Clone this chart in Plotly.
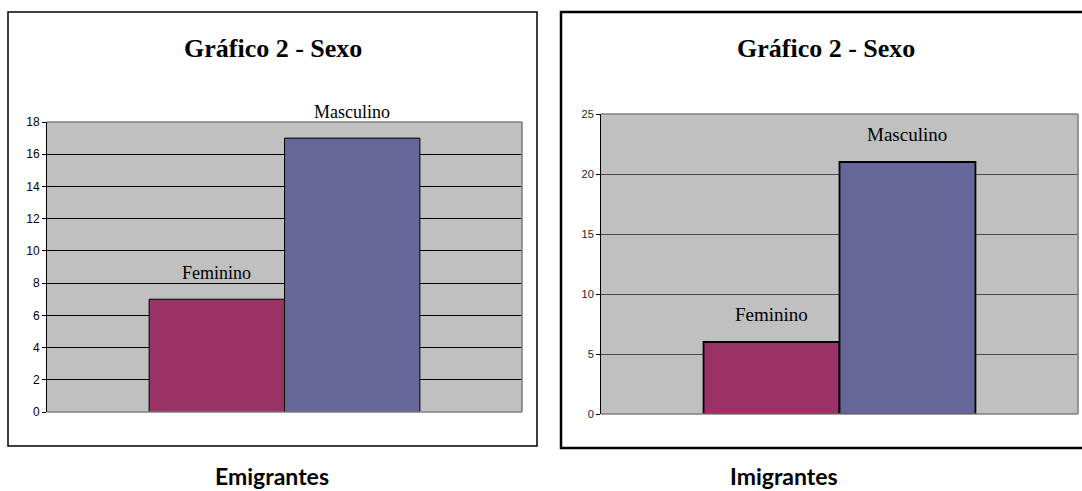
import plotly.graph_objects as go

# ---- data ----
categories = ["Sexo"]
series_names = ["Feminino", "Masculino"]
emigrantes_values = [7, 17]
imigrantes_values = [6, 21]
panel_titles = ["Gráfico 2 - Sexo", "Gráfico 2 - Sexo"]
panel_captions = ["Emigrantes", "Imigrantes"]
left_ticks = [0, 2, 4, 6, 8, 10, 12, 14, 16, 18]
right_ticks = [0, 5, 10, 15, 20, 25]

W, H = 1082, 491
colors = ["#993366", "#666699"]
BARGAP = 0.43

def fx(p):
    return p / W

def fy(p):
    return 1 - p / H

fig = go.Figure()

cat_pos = list(range(len(categories)))

panels = [
    dict(vals=emigrantes_values, xa="x", ya="y", lw=1.0),
    dict(vals=imigrantes_values, xa="x2", ya="y2", lw=1.8),
]
for pi, pnl in enumerate(panels):
    for si, name in enumerate(series_names):
        fig.add_trace(go.Bar(
            x=cat_pos, y=[pnl["vals"][si]], name=name,
            marker=dict(color=colors[si], line=dict(color="#000000", width=pnl["lw"])),
            xaxis=pnl["xa"], yaxis=pnl["ya"], showlegend=False,
            hoverinfo="skip",
        ))

ax_common = dict(showticklabels=False, showgrid=False, zeroline=False, showline=False,
                 ticks="", fixedrange=True, automargin=False,
                 range=[-0.5, len(categories) - 0.5])

fig.update_layout(
    template="none",
    width=W, height=H, autosize=False,
    margin=dict(l=0, r=0, t=0, b=0, pad=0, autoexpand=False),
    paper_bgcolor="white", plot_bgcolor="#C0C0C0",
    barmode="group", bargap=BARGAP, bargroupgap=0,
    xaxis=dict(domain=[fx(47), fx(522)], anchor="y", **ax_common),
    yaxis=dict(domain=[fy(412), fy(122)], anchor="x", range=[0, 18], automargin=False,
               tickvals=left_ticks, showgrid=True, gridcolor="#000000", gridwidth=1,
               showline=True, linecolor="#000000", linewidth=1,
               ticks="outside", ticklen=4, tickcolor="#000000",
               tickfont=dict(family="Liberation Sans, Arial", size=12, color="#000000"),
               zeroline=False, fixedrange=True),
    xaxis2=dict(domain=[fx(601), fx(1078)], anchor="y2", **ax_common),
    yaxis2=dict(domain=[fy(414), fy(114)], anchor="x2", range=[0, 25], automargin=False,
                tickvals=right_ticks, showgrid=True, gridcolor="#4a4a4a", gridwidth=1.4,
                showline=True, linecolor="#000000", linewidth=1,
                ticks="outside", ticklen=4, tickcolor="#000000",
                tickfont=dict(family="Liberation Sans, Arial", size=11, color="#222222"),
                zeroline=False, fixedrange=True),
)

# plot-area borders (gray) and outer chart boxes (black), in paper coords
plot_boxes = [(47, 522, 122, 412), (601, 1078, 114, 414)]
shapes = []
for (x0, x1, y0, y1) in plot_boxes:
    shapes.append(dict(type="line", xref="paper", yref="paper",
                       x0=fx(x0), x1=fx(x1), y0=fy(y0), y1=fy(y0),
                       line=dict(color="#808080", width=1.6), layer="above"))
    shapes.append(dict(type="line", xref="paper", yref="paper",
                       x0=fx(x1), x1=fx(x1), y0=fy(y0), y1=fy(y1),
                       line=dict(color="#808080", width=1.6), layer="above"))
    shapes.append(dict(type="line", xref="paper", yref="paper",
                       x0=fx(x0), x1=fx(x1), y0=fy(y1), y1=fy(y1),
                       line=dict(color="#808080", width=1.6), layer="above"))
shapes.append(dict(type="rect", xref="paper", yref="paper",
                   x0=fx(8), x1=fx(537), y0=fy(446), y1=fy(12),
                   line=dict(color="#000000", width=1.5), layer="above"))
shapes.append(dict(type="rect", xref="paper", yref="paper",
                   x0=fx(561), x1=fx(1092), y0=fy(448), y1=fy(12),
                   line=dict(color="#000000", width=2.5), layer="above"))
fig.update_layout(shapes=shapes)

annotations = []
# titles
for cx, t in zip([272.5, 826], panel_titles):
    annotations.append(dict(text=f"<b>{t}</b>", xref="paper", yref="paper",
                            x=fx(cx), y=fy(48), xanchor="center", yanchor="middle",
                            showarrow=False,
                            font=dict(family="Liberation Serif, Times New Roman", size=26, color="#000000")))
# captions
for cx, t in zip([272, 784], panel_captions):
    annotations.append(dict(text=f"<b>{t}</b>", xref="paper", yref="paper",
                            x=fx(cx), y=fy(476), xanchor="center", yanchor="middle",
                            showarrow=False,
                            font=dict(family="Lato, Open Sans", size=23, color="#000000")))
# series labels above bars
half = (1 - BARGAP) / 4
for (vals, xa, ya, fs, ysh) in [(emigrantes_values, "x", "y", 18, 14),
                                (imigrantes_values, "x2", "y2", 19, 15)]:
    for si, name in enumerate(series_names):
        annotations.append(dict(text=name, xref=xa, yref=ya,
                                x=cat_pos[0] + (-half if si == 0 else half), y=vals[si],
                                xanchor="center", yanchor="bottom", yshift=ysh,
                                showarrow=False,
                                font=dict(family="Liberation Serif, Times New Roman", size=fs,
                                          color="#000000")))
fig.update_layout(annotations=annotations)

fig.write_html("out.html", config={"displayModeBar": False},
               post_script="document.body.style.margin='0';document.body.style.padding='0';")
